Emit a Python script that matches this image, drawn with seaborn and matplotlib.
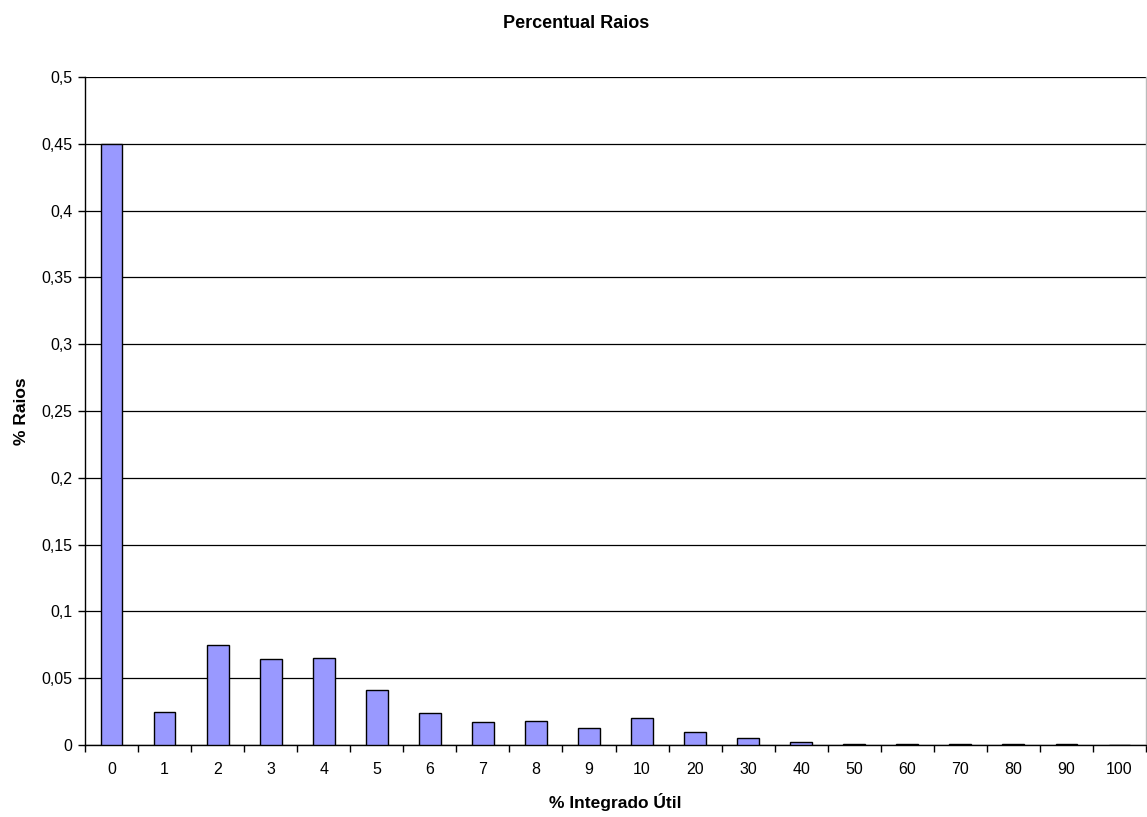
import matplotlib
matplotlib.use("Agg")
import matplotlib.pyplot as plt
import seaborn as sns
import pandas as pd
from matplotlib.ticker import FuncFormatter, FixedLocator

categories = ["0", "1", "2", "3", "4", "5", "6", "7", "8", "9",
              "10", "20", "30", "40", "50", "60", "70", "80", "90", "100"]
raios = [0.450, 0.025, 0.075, 0.064, 0.065, 0.041, 0.024, 0.017, 0.018, 0.013,
         0.020, 0.010, 0.005, 0.002, 0.0005, 0.0005, 0.0005, 0.0005, 0.0005, 0.0]

df = pd.DataFrame({"cat": categories, "val": raios})

sns.set_style("white")
plt.rcParams["font.family"] = ["Liberation Sans", "DejaVu Sans"]
plt.rcParams["text.color"] = "black"
plt.rcParams["axes.labelcolor"] = "black"
plt.rcParams["xtick.color"] = "black"
plt.rcParams["ytick.color"] = "black"

fig = plt.figure(figsize=(11.47, 8.17), dpi=100)
ax = fig.add_axes([85 / 1147, 72 / 817, 1061 / 1147, 668 / 817])

sns.barplot(data=df, x="cat", y="val", order=categories, color="#9999FF",
            saturation=1, width=0.41, edgecolor="black", linewidth=1,
            ax=ax, zorder=3)

ax.set_xlim(-0.5, len(categories) - 0.5)
ax.set_ylim(0, 0.5)
ax.set_yticks([i * 0.05 for i in range(11)])
ax.yaxis.set_major_formatter(FuncFormatter(
    lambda v, p: "0" if abs(v) < 1e-9 else f"{v:.2f}".rstrip("0").replace(".", ",")))
ax.grid(axis="y", color="black", linewidth=0.9, zorder=0)
ax.set_axisbelow(True)

# tick marks between categories, labels centred under bars
ax.xaxis.set_minor_locator(FixedLocator([i - 0.5 for i in range(len(categories) + 1)]))
ax.tick_params(axis="x", which="major", length=0, pad=12, labelsize=11.5)
ax.tick_params(axis="x", which="minor", length=5, width=1, color="black", direction="out")
ax.tick_params(axis="y", which="major", length=5, width=1, color="black",
               direction="out", labelsize=11.5, pad=4)
ax.tick_params(bottom=True, left=True, which="both")

for side in ["left", "bottom", "right"]:
    ax.spines[side].set_visible(True)
    ax.spines[side].set_color("black")
    ax.spines[side].set_linewidth(1)
ax.spines["right"].set_color("#bbbbbb")
ax.spines["top"].set_visible(False)

ax.set_xlabel("% Integrado Útil", fontsize=12.5, fontweight="bold", labelpad=12)
ax.set_ylabel("% Raios", fontsize=12.5, fontweight="bold", labelpad=9)
fig.suptitle("Percentual Raios", fontsize=13, fontweight="bold", y=0.982, x=0.502)

fig.savefig("out.png", dpi=100)
